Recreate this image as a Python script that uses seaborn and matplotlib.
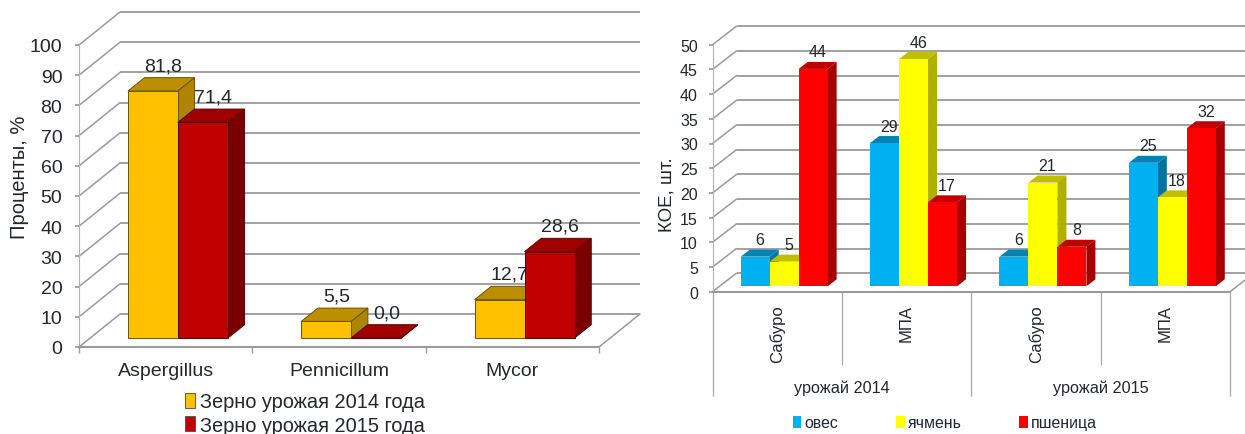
# 3D-style clustered bars: seaborn draws the front faces, side and top faces follow from the patches
import pandas as pd
import seaborn as sns
import matplotlib.pyplot as plt
from matplotlib.patches import Patch, Polygon
from matplotlib.transforms import Affine2D

# left chart
fungi = ["Aspergillus", "Pennicillum", "Mycor"]
harvest_labels = ["Зерно урожая 2014 года", "Зерно урожая 2015 года"]
harvest_2014 = [81.8, 5.5, 12.7]
harvest_2015 = [71.4, 0.0, 28.6]
percent_ticks = [0, 10, 20, 30, 40, 50, 60, 70, 80, 90, 100]

# right chart
media_keys = ["Сабуро 2014", "МПА 2014", "Сабуро 2015", "МПА 2015"]
media_labels = ["Сабуро", "МПА", "Сабуро", "МПА"]
year_labels = ["урожай 2014", "урожай 2015"]
grain_labels = ["овес", "ячмень", "пшеница"]
oats = [6, 29, 6, 25]
barley = [5, 46, 21, 18]
wheat = [44, 17, 8, 32]
cfu_ticks = [0, 5, 10, 15, 20, 25, 30, 35, 40, 45, 50]

W, H = 1245, 435
GRID = "#9a9a9a"
TEXT = "#23262e"


def make_axes(fig, x0, x1, y_top, y_bottom):
    """Axes box given in image pixels: this is the front plane of the 3D box."""
    return fig.add_axes([x0 / W, 1 - y_bottom / H, (x1 - x0) / W, (y_bottom - y_top) / H])


def px_to_data(ax, box, dx, dy):
    x0, x1, y_top, y_bottom = box
    xmin, xmax = ax.get_xlim()
    ymin, ymax = ax.get_ylim()
    return dx * (xmax - xmin) / (x1 - x0), dy * (ymax - ymin) / (y_bottom - y_top)


def draw_walls(ax, box, ticks, wall):
    """Back wall gridlines, left wall diagonals and the floor edge."""
    xmin, xmax = ax.get_xlim()
    ddx, ddy = px_to_data(ax, box, *wall)
    ax.hlines([t + ddy for t in ticks], xmin + ddx, xmax + ddx, color=GRID, lw=1.3, clip_on=False, zorder=1)
    for t in ticks:
        ax.plot([xmin, xmin + ddx], [t, t + ddy], color=GRID, lw=1.1, clip_on=False, zorder=1)
    ax.plot([xmax, xmax + ddx], [0, ddy], color=GRID, lw=1.1, clip_on=False, zorder=1)


def style_spines(ax):
    sns.despine(ax=ax)
    ax.spines["left"].set_color("#b5b5b5")
    ax.spines["left"].set_linewidth(0.8)
    ax.spines["bottom"].set_color(GRID)
    ax.spines["bottom"].set_linewidth(1.5)


def draw_bars_3d(ax, box, shift, depth, styles, fmt, label_dx=0, label_gap=11):
    """Move the seaborn bars onto the floor and add top, side and value label."""
    trans = ax.transData + Affine2D().translate(*shift)
    ddx, ddy = px_to_data(ax, box, *depth)
    bars = []
    for container, style in zip(ax.containers, styles):
        for bar in container:
            bars.append((bar, style))
    bars.sort(key=lambda item: item[0].get_x())
    gap_x, gap_y = px_to_data(ax, box, label_dx, label_gap)
    for i, (bar, style) in enumerate(bars):
        x, w, h = bar.get_x(), bar.get_width(), bar.get_height()
        z = 3 + i * 0.1
        bar.set_transform(trans)
        bar.set_clip_on(False)
        bar.set_zorder(z + 0.02)
        bar.set_edgecolor(style["edge"])
        bar.set_linewidth(style["lw"])
        top = [(x, h), (x + w, h), (x + w + ddx, h + ddy), (x + ddx, h + ddy)]
        side = [(x + w, 0), (x + w + ddx, ddy), (x + w + ddx, h + ddy), (x + w, h)]
        ax.add_patch(Polygon(top, closed=True, fc=style["top"], ec=style["edge"], lw=style["lw"],
                             transform=trans, clip_on=False, zorder=z))
        ax.add_patch(Polygon(side, closed=True, fc=style["side"], ec=style["edge"], lw=style["lw"],
                             transform=trans, clip_on=False, zorder=z + 0.01))
        ax.text(x + w / 2 + ddx / 2 + gap_x, h + ddy + gap_y, fmt(h), transform=trans, ha="center", va="center",
                fontsize=style["size"], color=TEXT, zorder=10, clip_on=False)


def left_chart(fig):
    box = (79, 599, 46, 348)
    ax = make_axes(fig, *box)
    df = pd.DataFrame({
        "fungus": fungi * 2,
        "share": harvest_2014 + harvest_2015,
        "harvest": [harvest_labels[0]] * 3 + [harvest_labels[1]] * 3,
    })
    colors = ["#FFC000", "#C00000"]
    sns.barplot(data=df, x="fungus", y="share", hue="harvest", palette=colors, width=0.577, gap=0,
                saturation=1, legend=False, ax=ax)
    ax.set_xlim(-0.5, 2.5)
    ax.set_ylim(0, 100)
    ax.set_yticks(percent_ticks)
    ax.set_xticks([-0.5, 0.5, 1.5, 2.5], minor=True)
    ax.set_xlabel("")
    ax.set_ylabel("Проценты, %", fontsize=14.5, color=TEXT)
    ax.yaxis.set_label_coords((29 - 79) / 520, (348 - 177) / 302)
    ax.tick_params(axis="y", labelsize=14, length=3, color=GRID, labelcolor=TEXT, pad=9, left=True)
    ax.tick_params(axis="x", which="major", labelsize=14, length=0, labelcolor=TEXT, pad=11)
    ax.tick_params(axis="x", which="minor", length=4, color=GRID, bottom=True)
    style_spines(ax)

    draw_walls(ax, box, percent_ticks, (41, 33))
    styles = [
        {"top": "#BC8F00", "side": "#AE8400", "edge": "#6b5200", "lw": 0.7, "size": 14},
        {"top": "#A00000", "side": "#7A0000", "edge": "#5a0000", "lw": 0.7, "size": 14},
    ]
    draw_bars_3d(ax, box, (12.3, 9), (16.6, 13.3), styles, lambda v: f"{v:.1f}".replace(".", ","),
                 label_dx=2, label_gap=12)

    handles = [Patch(fc=c, ec="#5a5a5a", lw=0.7) for c in colors]
    fig.legend(handles, harvest_labels, loc="center left", bbox_to_anchor=(185 / W, 1 - 414.5 / H), frameon=False,
               fontsize=14.45, labelcolor=TEXT, handlelength=0.5, handleheight=0.8, handletextpad=0.25,
               labelspacing=0.2, borderpad=0, borderaxespad=0)


def right_chart(fig):
    box = (712.5, 1230, 45.7, 292.7)
    ax = make_axes(fig, *box)
    df = pd.DataFrame({
        "medium": media_keys * 3,
        "count": oats + barley + wheat,
        "grain": [g for g in grain_labels for _ in media_keys],
    })
    colors = ["#00B0F0", "#FFFF00", "#FF0000"]
    sns.barplot(data=df, x="medium", y="count", hue="grain", palette=colors, width=0.672, gap=0,
                saturation=1, legend=False, ax=ax)
    ax.set_xlim(-0.5, 3.5)
    ax.set_ylim(0, 50)
    ax.set_yticks(cfu_ticks)
    ax.set_xticks(range(4))
    ax.set_xticklabels(media_labels, rotation=90, va="top")
    ax.set_xlabel("")
    ax.set_ylabel("КОЕ, шт.", fontsize=13.5, color=TEXT)
    ax.yaxis.set_label_coords((675 - 712.5) / 517.5, (292.7 - 195) / 247)
    ax.tick_params(axis="y", labelsize=11.5, length=3, color=GRID, labelcolor=TEXT, pad=7.5, left=True)
    ax.tick_params(axis="x", labelsize=12, length=0, labelcolor=TEXT, pad=9)
    style_spines(ax)

    draw_walls(ax, box, cfu_ticks, (24, 18.5))
    styles = [
        {"top": "#0083B3", "side": "#0075A0", "edge": "none", "lw": 0, "size": 11.5},
        {"top": "#BFBF00", "side": "#B0B000", "edge": "none", "lw": 0, "size": 11.5},
        {"top": "#C00000", "side": "#A80000", "edge": "none", "lw": 0, "size": 11.5},
    ]
    draw_bars_3d(ax, box, (7, 5.4), (9, 7), styles, lambda v: f"{v:.0f}", label_gap=10)

    # two level category axis below the bars
    xt = ax.get_xaxis_transform()
    ax.vlines([-0.5, 1.5, 3.5], 0, (292.7 - 397) / 247, color="#a6a6a6", lw=0.9, transform=xt, clip_on=False)
    ax.vlines([0.5, 2.5], 0, (292.7 - 366) / 247, color="#a6a6a6", lw=0.9, transform=xt, clip_on=False)
    for x, label in zip([0.5, 2.5], year_labels):
        ax.text(x, (292.7 - 388) / 247, label, transform=xt, ha="center", va="center", fontsize=11.7, color=TEXT)

    handles = [Patch(fc=c, ec="none") for c in colors]
    fig.legend(handles, grain_labels, loc="center left", bbox_to_anchor=(792.5 / W, 1 - 424 / H), ncols=3,
               frameon=False, fontsize=11.4, labelcolor=TEXT, handlelength=0.55, handleheight=0.75,
               handletextpad=0.2, columnspacing=3.65, borderpad=0, borderaxespad=0)


def main():
    sns.set_theme(style="white")
    plt.rcParams["font.family"] = ["Liberation Sans", "DejaVu Sans"]
    fig = plt.figure(figsize=(W / 100, H / 100), dpi=100)
    left_chart(fig)
    right_chart(fig)
    fig.savefig("out.png", dpi=100)
    plt.close(fig)


if __name__ == "__main__":
    main()
